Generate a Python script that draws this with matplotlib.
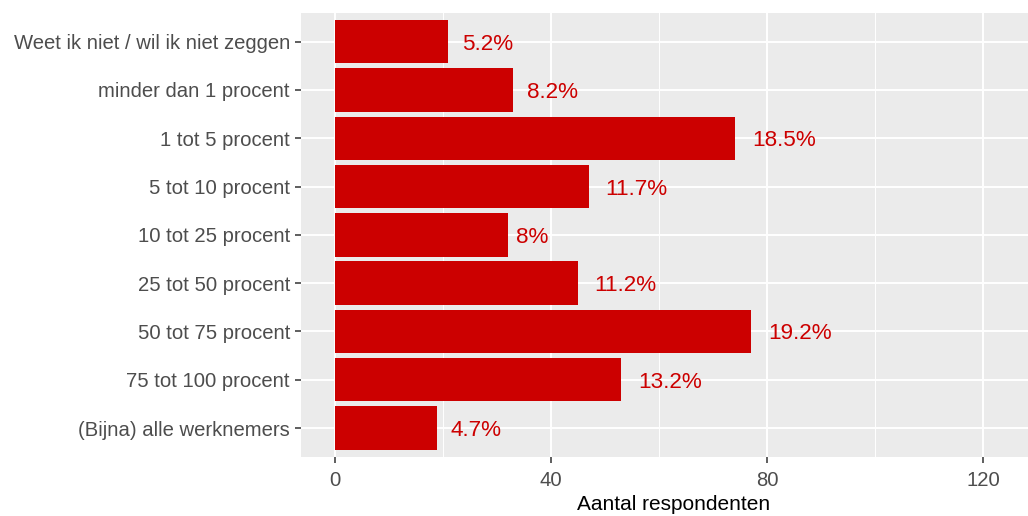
import matplotlib.pyplot as plt
from matplotlib.transforms import ScaledTranslation

# categories listed from bottom to top
categories = [
    '(Bijna) alle werknemers',
    '75 tot 100 procent',
    '50 tot 75 procent',
    '25 tot 50 procent',
    '10 tot 25 procent',
    '5 tot 10 procent',
    '1 tot 5 procent',
    'minder dan 1 procent',
    'Weet ik niet / wil ik niet zeggen',
]
counts = [19, 53, 77, 45, 32, 47, 74, 33, 21]
pct_labels = ['4.7%', '13.2%', '19.2%', '11.2%', '8%', '11.7%', '18.5%', '8.2%', '5.2%']
x_ticks = [0, 40, 80, 120]
x_minor = [20, 60, 100]

BAR_COLOUR = '#CC0000'
PANEL_BG = '#EBEBEB'

plt.rcParams['font.family'] = ['Liberation Sans', 'DejaVu Sans']

fig = plt.figure(figsize=(10.28, 5.16), dpi=100)
# panel runs a little past the right edge, like the cropped original
ax = fig.add_axes([0.2928, 0.1143, 0.7257, 0.8611])
ax.set_facecolor(PANEL_BG)

ypos = list(range(len(categories)))
ax.barh(ypos, counts, height=0.9, color=BAR_COLOUR, zorder=3)

labels = []
for y, n, lab in zip(ypos, counts, pct_labels):
    t = ax.text(n, y, lab, color=BAR_COLOUR, fontsize=16.2,
                ha='left', va='baseline', zorder=4)
    labels.append(t)

ax.set_xlim(-6.2, 131.8)
ax.set_ylim(-0.6, len(categories) - 0.4)

ax.set_xticks(x_ticks)
ax.set_xticks(x_minor, minor=True)
ax.set_yticks(ypos)
ax.set_yticklabels(categories)

ax.grid(which='major', color='white', linewidth=1.4, zorder=0)
ax.grid(which='minor', axis='x', color='white', linewidth=0.7, zorder=0)
ax.set_axisbelow(True)

for s in ax.spines.values():
    s.set_visible(False)

ax.tick_params(which='major', length=4, width=1.1, color='#333333',
               labelcolor='#4D4D4D', labelsize=14.6)
ax.tick_params(axis='y', pad=4)
ax.tick_params(axis='x', pad=6)
ax.tick_params(which='minor', length=0)

ax.set_xlabel('Aantal respondenten', fontsize=15, color='black', labelpad=4)

# hjust < 0 style placement: shift each label right by a fraction of its width
fig.canvas.draw()
renderer = fig.canvas.get_renderer()
for t in labels:
    w = t.get_window_extent(renderer).width / fig.dpi
    t.set_transform(ax.transData + ScaledTranslation(0.27 * w, -8 / fig.dpi, fig.dpi_scale_trans))

fig.savefig('out.png', dpi=100)
